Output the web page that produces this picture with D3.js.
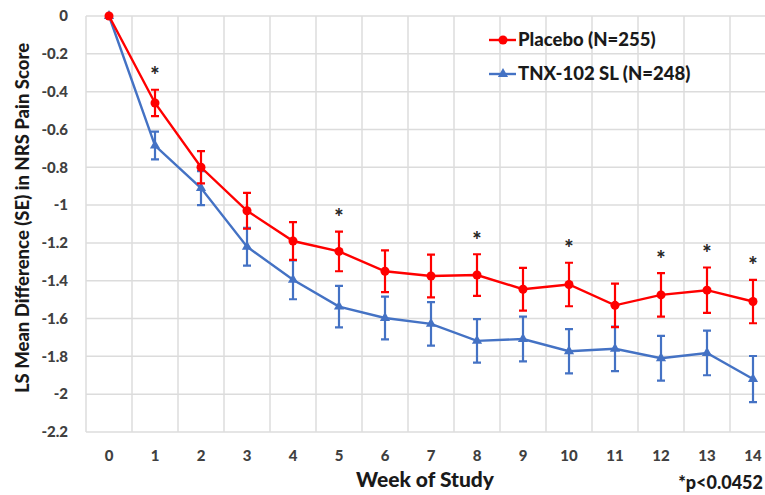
<!DOCTYPE html>
<html>
<head>
<meta charset="utf-8">
<script src="https://cdn.jsdelivr.net/npm/d3@7"></script>
<style>
  body { margin: 0; background: #fff; }
  svg { display: block; font-family: Lato, "Open Sans", sans-serif; }
</style>
</head>
<body>
<div id="chart"></div>
<script>
(function() {
  var weeks = [0, 1, 2, 3, 4, 5, 6, 7, 8, 9, 10, 11, 12, 13, 14];
  var placebo = [0, -0.46, -0.80, -1.03, -1.19, -1.245, -1.35, -1.375, -1.37, -1.445, -1.42, -1.53, -1.475, -1.45, -1.51];
  var placeboSE = [0, 0.07, 0.085, 0.095, 0.10, 0.105, 0.11, 0.113, 0.11, 0.113, 0.115, 0.115, 0.115, 0.12, 0.115];
  var tnx = [0, -0.685, -0.91, -1.22, -1.395, -1.537, -1.597, -1.628, -1.718, -1.708, -1.773, -1.76, -1.81, -1.782, -1.92];
  var tnxSE = [0, 0.073, 0.09, 0.10, 0.103, 0.11, 0.113, 0.115, 0.115, 0.118, 0.117, 0.118, 0.118, 0.118, 0.122];
  var starWeeks = [1, 5, 8, 10, 12, 13, 14];
  var yTicks = [0, -0.2, -0.4, -0.6, -0.8, -1, -1.2, -1.4, -1.6, -1.8, -2, -2.2];
  var seriesNames = ["Placebo (N=255)", "TNX-102 SL (N=248)"];

  var width = 765, height = 495;
  var red = "#ff0000", blue = "#4472c4";

  var svg = d3.select("#chart").append("svg")
    .attr("width", width)
    .attr("height", height);

  var x = d3.scalePoint().domain(weeks).range([109, 753]);
  var step = x.step();
  var y = d3.scaleLinear().domain([-2.2, 0]).range([432, 16]);
  var left = x(0) - step / 2, right = x(14) + step / 2;

  // grid
  var grid = svg.append("g");
  grid.selectAll(".hgrid")
    .data(yTicks)
    .enter().append("line")
    .attr("x1", left).attr("x2", right)
    .attr("y1", function(d) { return y(d); })
    .attr("y2", function(d) { return y(d); })
    .attr("stroke", "#dcdcdc")
    .attr("stroke-width", 1.5);
  grid.selectAll(".vgrid")
    .data(d3.range(weeks.length + 1))
    .enter().append("line")
    .attr("x1", function(i) { return left + i * step; })
    .attr("x2", function(i) { return left + i * step; })
    .attr("y1", y(0)).attr("y2", y(-2.2))
    .attr("stroke", "#dcdcdc")
    .attr("stroke-width", 1.5);

  // y axis labels
  svg.selectAll(".ylab")
    .data(yTicks)
    .enter().append("text")
    .attr("x", 68)
    .attr("y", function(d) { return y(d); })
    .attr("dy", "0.35em")
    .attr("text-anchor", "end")
    .attr("font-size", 15)
    .attr("font-weight", 900)
    .attr("fill", "#404040")
    .text(function(d) { return String(+d.toFixed(1)); });

  // x axis labels
  svg.selectAll(".xlab")
    .data(weeks)
    .enter().append("text")
    .attr("x", function(d) { return x(d); })
    .attr("y", 456)
    .attr("dy", "0.35em")
    .attr("text-anchor", "middle")
    .attr("font-size", 15)
    .attr("font-weight", 900)
    .attr("fill", "#404040")
    .text(function(d) { return d; });

  svg.append("text")
    .attr("x", 425).attr("y", 480)
    .attr("dy", "0.35em")
    .attr("text-anchor", "middle")
    .attr("font-size", 21)
    .attr("font-weight", 900)
    .attr("fill", "#1a1a1a")
    .text("Week of Study");

  svg.append("text")
    .attr("x", 763).attr("y", 483)
    .attr("dy", "0.35em")
    .attr("text-anchor", "end")
    .attr("font-size", 18)
    .attr("font-weight", 900)
    .attr("fill", "#1a1a1a")
    .text("*p<0.0452");

  svg.append("text")
    .attr("transform", "translate(23,218)rotate(-90)")
    .attr("dy", "0.35em")
    .attr("text-anchor", "middle")
    .attr("font-size", 18.5)
    .attr("font-weight", 900)
    .attr("fill", "#1a1a1a")
    .text("LS Mean Difference (SE) in NRS Pain Score");

  var line = d3.line()
    .x(function(d, i) { return x(weeks[i]); })
    .y(function(d) { return y(d); });

  var triangle = d3.symbol().type(d3.symbolTriangle).size(45);

  function drawSeries(vals, se, color, marker) {
    var g = svg.append("g");
    var pts = vals.map(function(v, i) { return { week: weeks[i], v: v, se: se[i] }; })
      .filter(function(p) { return p.se > 0; });
    g.selectAll(".err")
      .data(pts)
      .enter().append("path")
      .attr("d", function(p) {
        var cx = x(p.week), t = y(p.v + p.se), b = y(p.v - p.se);
        return "M" + (cx - 4) + "," + t + "H" + (cx + 4) +
               "M" + cx + "," + t + "V" + b +
               "M" + (cx - 4) + "," + b + "H" + (cx + 4);
      })
      .attr("stroke", color)
      .attr("stroke-width", 2.2)
      .attr("fill", "none");
    g.append("path")
      .datum(vals)
      .attr("d", line)
      .attr("stroke", color)
      .attr("stroke-width", 2.4)
      .attr("fill", "none");
    if (marker === "circle") {
      g.selectAll(".pt")
        .data(vals)
        .enter().append("circle")
        .attr("cx", function(d, i) { return x(weeks[i]); })
        .attr("cy", function(d) { return y(d); })
        .attr("r", 4.5)
        .attr("fill", color);
    } else {
      g.selectAll(".pt")
        .data(vals)
        .enter().append("path")
        .attr("d", triangle)
        .attr("transform", function(d, i) { return "translate(" + x(weeks[i]) + "," + y(d) + ")"; })
        .attr("fill", color);
    }
  }

  drawSeries(tnx, tnxSE, blue, "triangle");
  drawSeries(placebo, placeboSE, red, "circle");

  // significance stars
  svg.selectAll(".star")
    .data(starWeeks)
    .enter().append("text")
    .attr("x", function(d) { return x(d); })
    .attr("y", function(d) { return y(placebo[d] + placeboSE[d]) - 23; })
    .attr("dy", "0.75em")
    .attr("text-anchor", "middle")
    .attr("font-size", 22)
    .attr("font-weight", 900)
    .attr("fill", "#262626")
    .text("*");

  // legend
  var legend = svg.append("g");
  var legendY = [40, 74];
  var legendColors = [red, blue];
  seriesNames.forEach(function(name, i) {
    var ly = legendY[i];
    legend.append("line")
      .attr("x1", 489).attr("x2", 516)
      .attr("y1", ly).attr("y2", ly)
      .attr("stroke", legendColors[i])
      .attr("stroke-width", 2.4);
    if (i === 0) {
      legend.append("circle").attr("cx", 503).attr("cy", ly).attr("r", 4.5).attr("fill", red);
    } else {
      legend.append("path").attr("d", triangle)
        .attr("transform", "translate(503," + ly + ")").attr("fill", blue);
    }
    legend.append("text")
      .attr("x", 518).attr("y", ly)
      .attr("dy", "0.35em")
      .attr("font-size", 18.5)
      .attr("font-weight", 900)
      .attr("fill", "#1a1a1a")
      .text(name);
  });
})();
</script>
</body>
</html>
